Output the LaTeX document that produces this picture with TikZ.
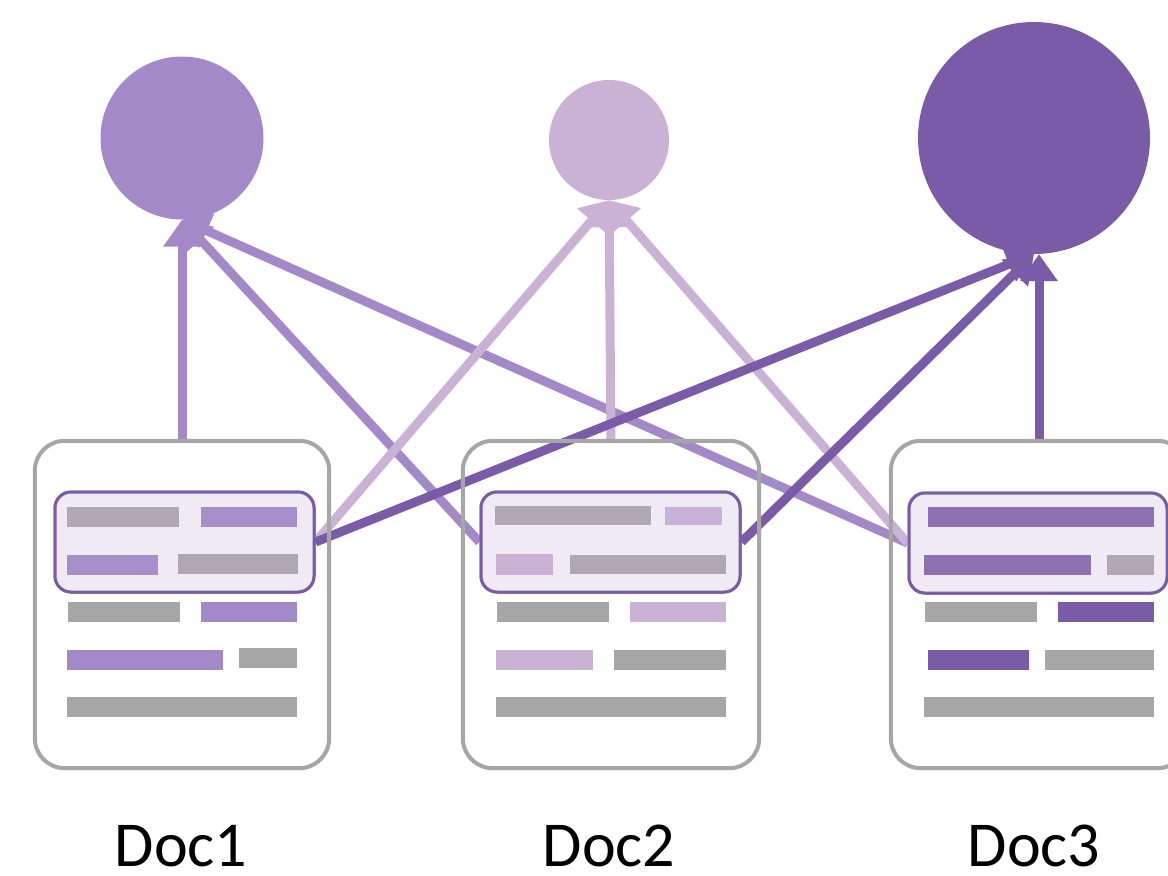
\documentclass[tikz,border=0pt]{standalone}
\usepackage{fontspec}
\setmainfont{Carlito}
\usetikzlibrary{arrows.meta}
\definecolor{pA}{HTML}{A389C8}
\definecolor{pB}{HTML}{C9B2D6}
\definecolor{pC}{HTML}{7A5BA7}
\definecolor{gbar}{HTML}{A6A6A6}
\definecolor{ghl}{HTML}{AFA8B3}
\definecolor{hlfill}{HTML}{EFEAF3}
\definecolor{pAh}{HTML}{A88FCC}
\definecolor{pCh}{HTML}{8E70B3}
\begin{document}
\begin{tikzpicture}[x=1pt,y=-1pt,
 dot/.style={circle,inner sep=0pt,draw=none},
 docbox/.style={rectangle,rounded corners=30pt,fill=white,minimum height=327pt,inner sep=0pt},
 docline/.style={draw=gbar,line width=4pt,rounded corners=30pt},
 hlbox/.style={rectangle,rounded corners=16pt,fill=hlfill,draw=pC,line width=3pt,minimum height=100pt,inner sep=0pt},
 link/.style={line width=9pt,-{Triangle[width=36pt,length=27pt]}},
 lbl/.style={font=\fontsize{64}{66}\selectfont,anchor=base,inner sep=0pt}
]
\useasboundingbox (0,0) rectangle (1168,876);
\clip (0,0) rectangle (1168,876);

% circles
\node[dot,fill=pA,minimum size=163pt] (c1) at (182,138) {};
\node[dot,fill=pB,minimum size=120pt] (c2) at (609,140) {};
\node[dot,fill=pC,minimum size=232pt] (c3) at (1034,138) {};

% document boxes
\node[docbox,minimum width=294pt] (d1) at (182,604.5) {};
\node[docbox,minimum width=296pt] (d2) at (611,604.5) {};
\node[docbox,minimum width=296pt] (d3) at (1039,604.5) {};

% highlight boxes
\node[hlbox,minimum width=259pt] (h1) at (184.5,542) {};
\node[hlbox,minimum width=259pt] (h2) at (610.5,542) {};
\node[hlbox,minimum width=258pt] (h3) at (1038,543) {};

% connectors
\draw[link,pA] (d1.north) -- (c1.south);
\draw[link,pA] (h2.west) -- (c1.south);
\draw[link,pA] (h3.west) -- (c1.south);
\draw[link,pB] (h1.east) -- (c2.south);
\draw[link,pB] (d2.north) -- (c2.south);
\draw[link,pB] (h3.west) -- (c2.south);
\draw[link,pC] (h1.east) -- (c3.south);
\draw[link,pC] (h2.east) -- (c3.south);
\draw[link,pC] (d3.north) -- (d3.north |- c3.south);

% doc borders on top
\draw[docline] (d1.south west) rectangle (d1.north east);
\draw[docline] (d2.south west) rectangle (d2.north east);
\draw[docline] (d3.south west) rectangle (d3.north east);
\node[hlbox,minimum width=259pt] at (184.5,542) {};
\node[hlbox,minimum width=259pt] at (610.5,542) {};
\node[hlbox,minimum width=258pt] at (1038,543) {};

% Doc1 bars
\fill[ghl] (67,507) rectangle (179,527);
\fill[pAh] (201,507) rectangle (297,527);
\fill[pAh] (67,555) rectangle (158,575);
\fill[ghl] (178,554) rectangle (298,574);
\fill[gbar] (68,602) rectangle (180,622);
\fill[pA] (201,602) rectangle (297,622);
\fill[pA] (67,650) rectangle (223,670);
\fill[gbar] (239,648) rectangle (297,668);
\fill[gbar] (67,697) rectangle (297,717);

% Doc2 bars
\fill[ghl] (495,506) rectangle (651,525);
\fill[pB] (665,507) rectangle (722,525);
\fill[pB] (496,554) rectangle (553,575);
\fill[ghl] (570,555) rectangle (726,574);
\fill[gbar] (497,602) rectangle (609,622);
\fill[pB] (630,602) rectangle (726,622);
\fill[pB] (496,650) rectangle (593,670);
\fill[gbar] (614,650) rectangle (726,670);
\fill[gbar] (496,697) rectangle (726,717);

% Doc3 bars
\fill[pCh] (928,507) rectangle (1154,527);
\fill[pCh] (924,555) rectangle (1091,575);
\fill[ghl] (1107,555) rectangle (1154,575);
\fill[gbar] (925,602) rectangle (1037,622);
\fill[pC] (1058,602) rectangle (1154,622);
\fill[pC] (928,650) rectangle (1029,670);
\fill[gbar] (1045,650) rectangle (1154,670);
\fill[gbar] (924,697) rectangle (1154,717);

% labels
\node[lbl] (l1) at (181,866) {Doc1};
\node[lbl] (l2) at (609,866) {Doc2};
\node[lbl] (l3) at (1034,866) {Doc3};
\end{tikzpicture}
\end{document}
